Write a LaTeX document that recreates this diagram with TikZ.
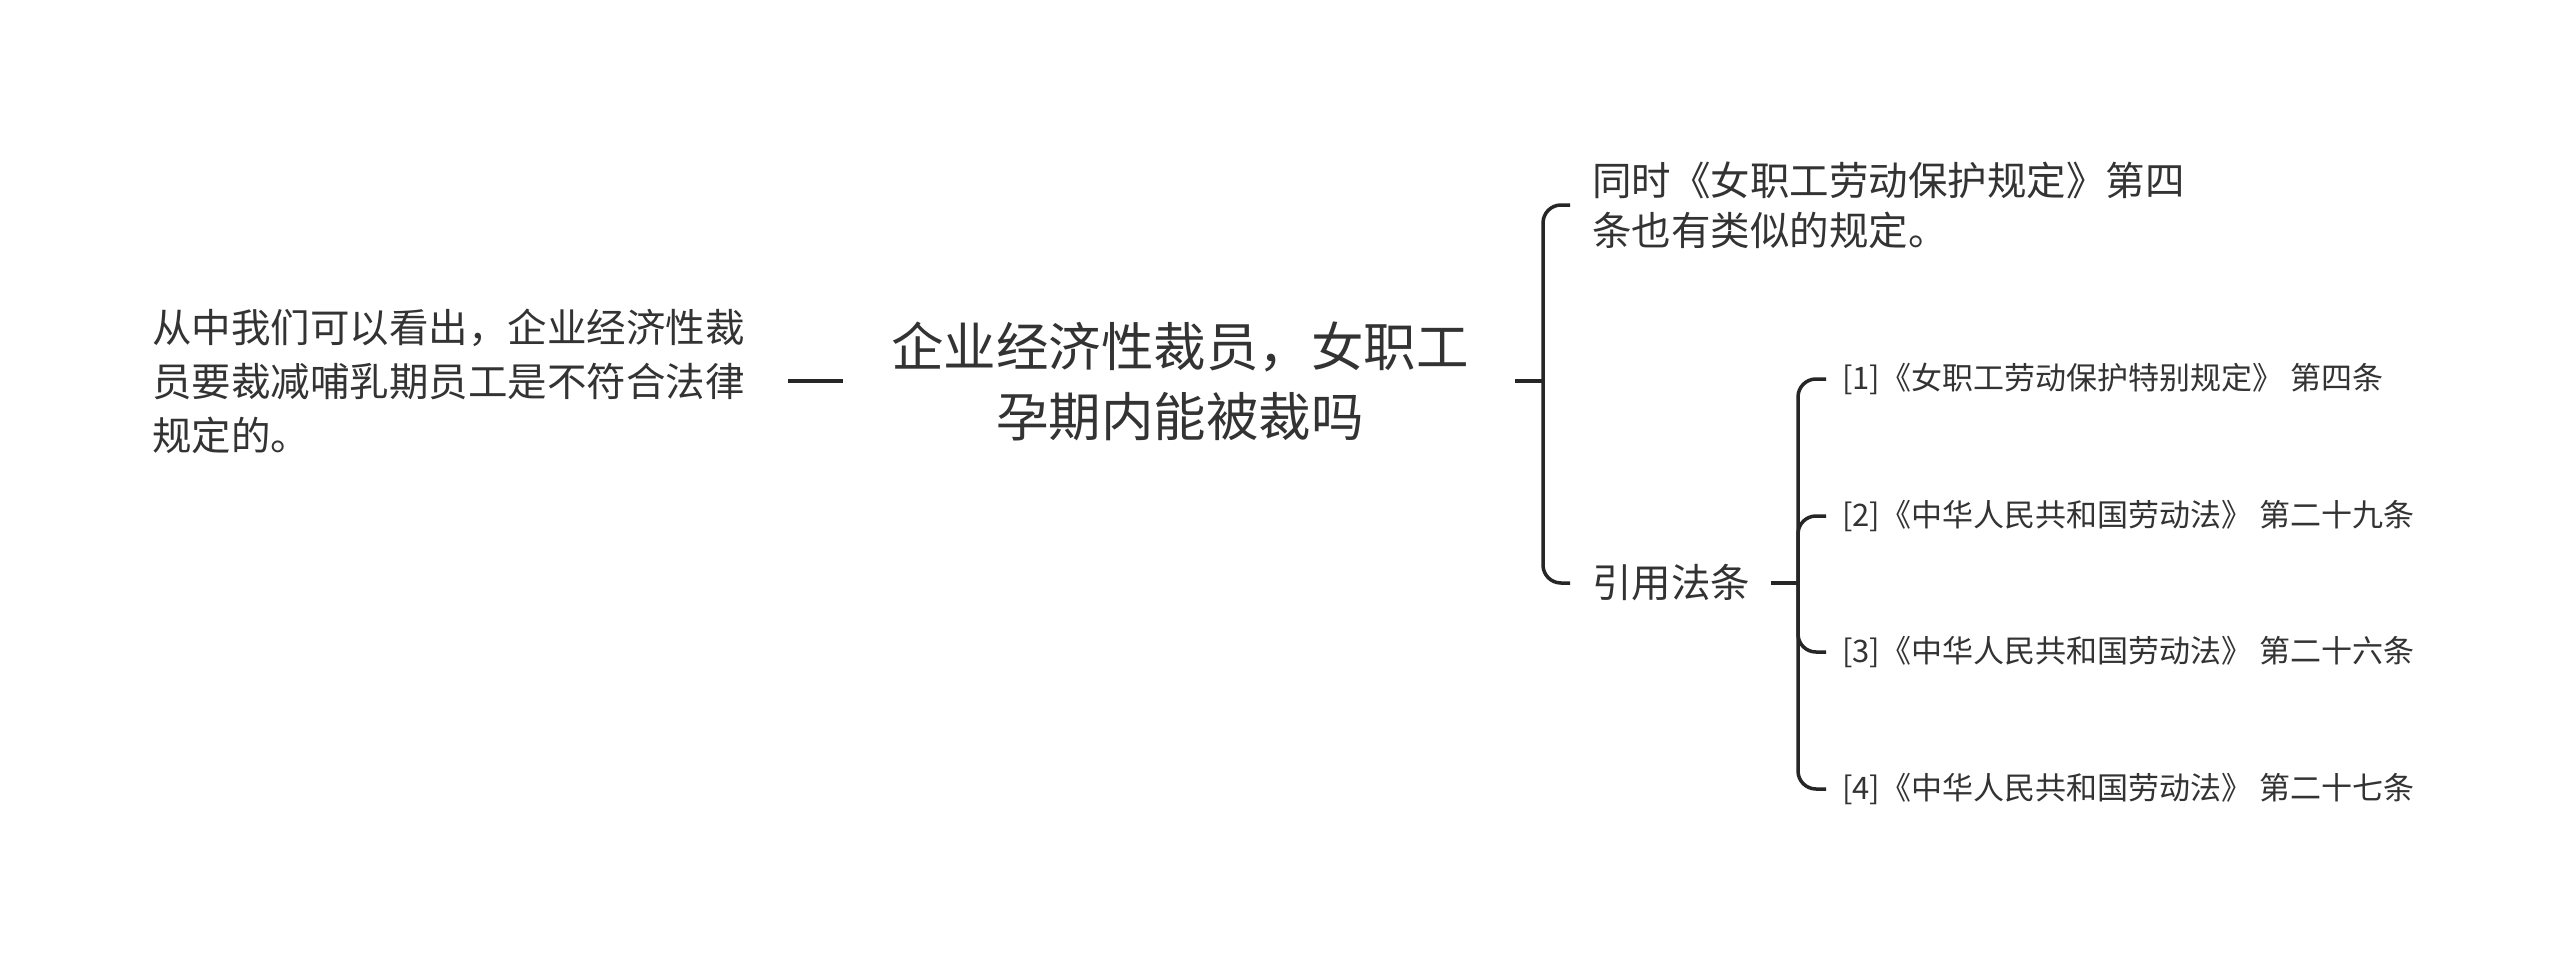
\documentclass[tikz,border=0pt]{standalone}
\usepackage{fontspec}
\setmainfont{Noto Sans CJK SC}
\definecolor{txt}{HTML}{333333}
\definecolor{ln}{HTML}{262626}
\tikzset{
  conn/.style={draw=ln, line width=3.5pt, line cap=butt},
  lefttext/.style={inner sep=0pt, anchor=west, align=left, text=txt, font=\fontsize{39.5}{54}\selectfont},
  roottext/.style={inner sep=0pt, align=center, text=txt, font=\fontsize{52.5}{70}\selectfont},
  subtext/.style={inner sep=0pt, anchor=west, align=left, text=txt, font=\fontsize{39.5}{50}\selectfont},
  reftext/.style={inner sep=0pt, anchor=west, align=left, text=txt, font=\fontsize{31}{40}\selectfont}
}
\begin{document}
\begin{tikzpicture}[x=1pt,y=-1pt]
\fill[white] (0,0) rectangle (2560,955);
\useasboundingbox (0,0) rectangle (2560,955);

\node[roottext] (root) at (1180,381) {企业经济性裁员，女职工\\孕期内能被裁吗};
\node[lefttext] (left) at (152,381) {从中我们可以看出，企业经济性裁\\员要裁减哺乳期员工是不符合法律\\规定的。};
\node[subtext] (t1) at (1592,205) {同时《女职工劳动保护规定》第四\\条也有类似的规定。};
\node[subtext] (t2) at (1592,583) {引用法条};
\node[reftext] (r1) at (1842,379) {[1]《女职工劳动保护特别规定》 第四条};
\node[reftext] (r2) at (1842,516) {[2]《中华人民共和国劳动法》 第二十九条};
\node[reftext] (r3) at (1842,652) {[3]《中华人民共和国劳动法》 第二十六条};
\node[reftext] (r4) at (1842,789) {[4]《中华人民共和国劳动法》 第二十七条};

\coordinate (j1) at (1543,381);
\coordinate (j2) at (1798,583);
\coordinate (s1) at (1515,381);

% left dash
\draw[conn] ([xshift=43pt]left.east |- root.center) -- ([xshift=-48pt]root.west);
% root to first bracket
\draw[conn] (s1) -- (j1);
\draw[conn, rounded corners=18pt] ([xshift=-22pt]t1.west) -| (j1) |- ([xshift=-22pt]t2.west);
% second bracket
\draw[conn] ([xshift=21pt]t2.east) -- (j2);
\draw[conn, rounded corners=18pt] ([xshift=-16pt]r1.west) -| (j2) |- ([xshift=-16pt]r4.west);
\draw[conn, rounded corners=18pt] (j2) |- ([xshift=-16pt]r2.west);
\draw[conn, rounded corners=18pt] (j2) |- ([xshift=-16pt]r3.west);
\end{tikzpicture}
\end{document}
